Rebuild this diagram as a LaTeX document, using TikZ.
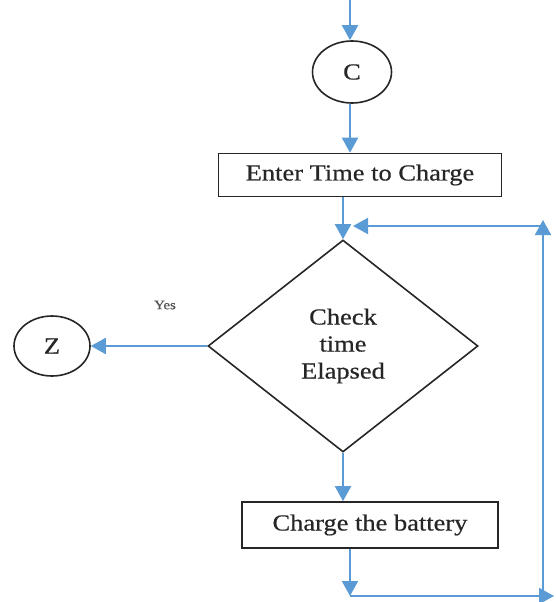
\documentclass[tikz,border=0pt]{standalone}
\usepackage{fontspec}
\setmainfont[FakeStretch=1.15,FakeBold=0.5]{Liberation Serif}
\usetikzlibrary{arrows.meta,shapes.geometric}
\definecolor{flowblue}{HTML}{5B9BD5}
\definecolor{edge}{HTML}{262626}
\begin{document}
\begin{tikzpicture}[x=1pt,y=-1pt,
  txt/.style={font=\fontsize{23}{27}\selectfont, text=edge},
  procbox/.style={draw=edge, line width=1.6pt, rectangle, inner sep=0pt, txt},
  connector/.style={ellipse, draw=edge, line width=1.6pt, inner sep=0pt, txt},
  decision/.style={diamond, draw=edge, line width=1.6pt, inner sep=0pt, txt, align=center},
  flow/.style={draw=flowblue, line width=2pt, -{Triangle[length=15pt,width=16pt]}}]
\useasboundingbox (0,0) rectangle (555,602);

% nodes
\node[connector, minimum width=79pt, minimum height=62pt] (c) at (352,72) {C};
\node[procbox, minimum width=283pt, minimum height=43pt] (enter) at (360,175) {Enter Time to Charge};
\node[decision, minimum width=270pt, minimum height=212pt] (check) at (343,346)
  {Check\\ time\\ Elapsed};
\node[connector, minimum width=76pt, minimum height=60pt] (z) at (52,346) {Z};
\node[procbox, minimum width=256pt, minimum height=46pt] (charge) at (370,525) {Charge the battery};
\node[font=\fontsize{13}{15}\selectfont, text=edge!80] (yes) at (165,305) {Yes};

% loop-back corners
\coordinate (top) at (350,0);
\coordinate (low) at (350,596);
\coordinate (lowend) at (554,596);
\coordinate (rbot) at (543,596);
\coordinate (rtop) at (543,220);
\coordinate (rjoin) at (545,226);
\coordinate (ljoin) at (353,226);

% connectors
\draw[flow] (top) -- (c.north -| top);
\draw[flow] (c.south -| top) -- (enter.north -| top);
\draw[flow] (enter.south -| check.north) -- (check.north);
\draw[flow] (check.west) -- (z.east);
\draw[flow] (check.south) -- (charge.north -| check.south);
\draw[flow] (charge.south -| low) -- (low);
\draw[flow] (low) -- (lowend);
\draw[flow] (rbot) -- (rtop);
\draw[flow] (rjoin) -- (ljoin);
\end{tikzpicture}
\end{document}
